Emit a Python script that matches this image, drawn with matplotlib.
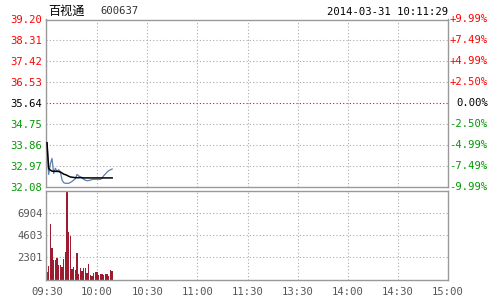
import matplotlib
matplotlib.use("Agg")
import matplotlib.pyplot as plt
import numpy as np

# ---------------- data ----------------
title_name = "百视通"
title_code = "600637"
timestamp = "2014-03-31 10:11:29"
pre_close = 35.64
price_levels = [39.20, 38.31, 37.42, 36.53, 35.64, 34.75, 33.86, 32.97, 32.08]
pct_labels = ["+9.99%", "+7.49%", "+4.99%", "+2.50%", "0.00%", "-2.50%", "-4.99%", "-7.49%", "-9.99%"]
vol_ticks = [2301, 4603, 6904]
vol_max = 9205
time_labels = ["09:30", "10:00", "10:30", "11:00", "11:30", "13:30", "14:00", "14:30", "15:00"]
time_positions = [0, 30, 60, 90, 120, 150, 180, 210, 240]

minutes = list(range(40))
price = [33.95, 32.60, 33.05, 33.28, 32.64, 32.86, 32.72, 32.80, 32.70, 32.36,
         32.25, 32.22, 32.22, 32.22, 32.26, 32.30, 32.36, 32.42, 32.60, 32.53,
         32.50, 32.45, 32.39, 32.35, 32.33, 32.34, 32.36, 32.38, 32.39, 32.39,
         32.39, 32.39, 32.39, 32.45, 32.55, 32.62, 32.70, 32.76, 32.80, 32.83]
avg_price = [33.95, 32.85, 32.78, 32.74, 32.73, 32.73, 32.73, 32.72, 32.70, 32.66,
             32.61, 32.59, 32.56, 32.52, 32.49, 32.48, 32.47, 32.46, 32.46, 32.46,
             32.46, 32.46, 32.45, 32.45, 32.45, 32.45, 32.45, 32.45, 32.45, 32.45,
             32.45, 32.45, 32.45, 32.45, 32.45, 32.45, 32.45, 32.45, 32.45, 32.45]
volume = [764, 1390, 5766, 3265, 2015, 2015, 2258, 1494, 1494, 1320,
          2154, 2848, 9205, 4932, 4585, 1112, 1285, 973, 2744, 625,
          1181, 903, 1181, 1181, 660, 1598, 486, 382, 660, 764,
          834, 486, 556, 556, 486, 625, 556, 347, 1042, 868]

# ---------------- style ----------------
RED = "#ff0000"
GREEN = "#009900"
GREY = "#555555"
BORDER = "#999999"
GRID = "#aaaaaa"
FONT = "DejaVu Sans Mono"
FS = 7.6

fig = plt.figure(figsize=(5, 3), dpi=100)
fig.patch.set_facecolor("white")

ax = fig.add_axes([0.092, 0.378, 0.804, 0.557])
axv = fig.add_axes([0.092, 0.068, 0.804, 0.295])

xmin, xmax = -0.6, 240
for a in (ax, axv):
    a.set_xlim(xmin, xmax)
    for s in a.spines.values():
        s.set_color(BORDER)
        s.set_linewidth(1.0)
    a.tick_params(length=0)
    for xp in time_positions[1:-1]:
        a.axvline(xp, color=GRID, lw=0.8, ls=(0, (1, 2)), zorder=0)

# ---- price panel ----
ax.set_ylim(min(price_levels), max(price_levels))
for lv in price_levels[1:-1]:
    if lv == pre_close:
        ax.axhline(lv, color=RED, lw=0.8, ls=(0, (1, 2)), zorder=0)
    else:
        ax.axhline(lv, color=GRID, lw=0.8, ls=(0, (1, 2)), zorder=0)

ax.plot(minutes, price, color="#5a7fae", lw=0.9, zorder=2)
ax.plot(minutes, avg_price, color="black", lw=1.1, zorder=3)

ax.set_xticks([])
ax.set_yticks(price_levels)
ax.set_yticklabels([f"{v:.2f}" for v in price_levels], family=FONT, fontsize=FS)
ax.tick_params(axis="y", pad=2.5)
for lbl, v in zip(ax.get_yticklabels(), price_levels):
    lbl.set_color(RED if v > pre_close else ("black" if v == pre_close else GREEN))

for v, t in zip(price_levels, pct_labels):
    col = RED if v > pre_close else ("black" if v == pre_close else GREEN)
    ax.text(1.099, v, t, transform=ax.get_yaxis_transform(), ha="right", va="center",
            family=FONT, fontsize=FS, color=col)

# header texts
fig.text(0.096, 0.962, title_name, family=["Noto Sans CJK SC", "DejaVu Sans"],
         fontsize=8.7, color="black", va="center", ha="left")
fig.text(0.200, 0.962, title_code, family=FONT, fontsize=FS, color="#333333", va="center", ha="left")
fig.text(0.896, 0.960, timestamp, family=FONT, fontsize=FS, color="black", va="center", ha="right")

# ---- volume panel ----
axv.set_ylim(0, vol_max)
for vt in vol_ticks:
    axv.axhline(vt, color=GRID, lw=0.8, ls=(0, (1, 2)), zorder=0)
axv.bar(minutes, volume, width=0.8, color="#9b1b30", linewidth=0,
        antialiased=False, zorder=2)
axv.set_yticks(vol_ticks)
axv.set_yticklabels([str(v) for v in vol_ticks], family=FONT, fontsize=FS, color=GREY)
axv.tick_params(axis="y", pad=2.5)
axv.set_xticks(time_positions)
axv.set_xticklabels(time_labels, family=FONT, fontsize=FS, color=GREY)
axv.tick_params(axis="x", pad=5)

fig.savefig("out.png", dpi=100, facecolor="white")
